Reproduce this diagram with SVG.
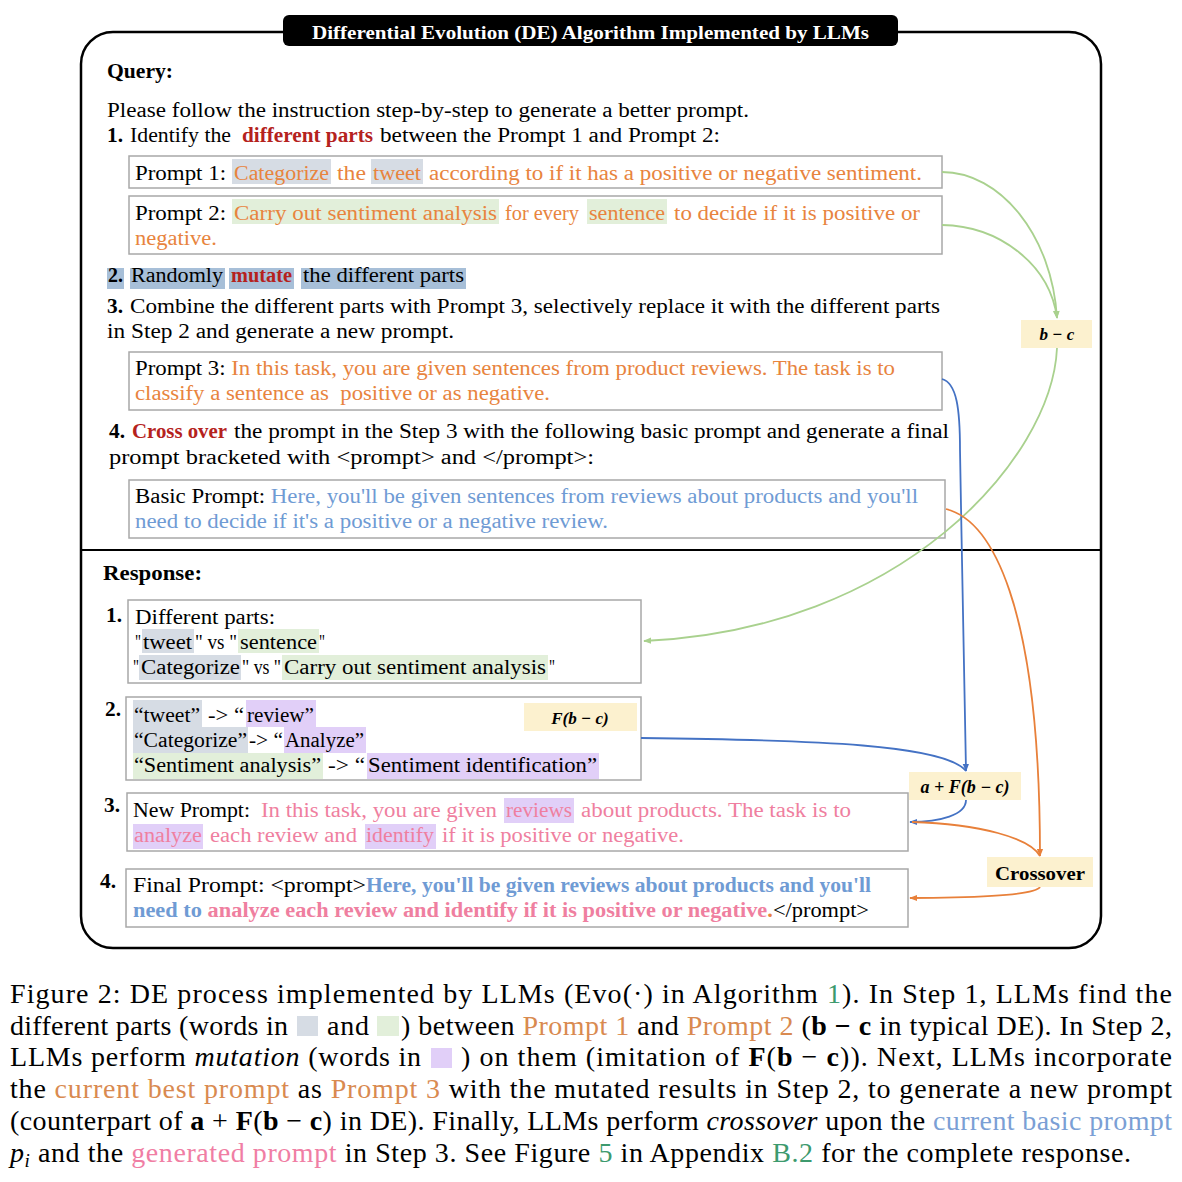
<svg xmlns="http://www.w3.org/2000/svg" width="1182" height="1182" viewBox="0 0 1182 1182">
<style>
text{font-family:"Liberation Serif","Times New Roman",serif;font-size:20.8px;fill:#000}
.b{font-weight:bold}
.i{font-style:italic}
.red{fill:#b5221d}
.or{fill:#e8843e}
.bl{fill:#6f9bd4}
.pk{fill:#ef7fa0}
.box{fill:#fff;stroke:#a8a8a8;stroke-width:1.5}
.hg{fill:#d6dce4}
.hgr{fill:#e2efda}
.hp{fill:#e1cff8}
.hb{fill:#a7bfd8}
.lab{fill:#fcf1cf}
.m{font-weight:bold;font-style:italic;font-size:17px}
.cap{font-size:28px}
.cor{fill:#d98a50}
.cgr{fill:#3d9a6e}
.cbl{fill:#7b9fd5}
.cpk{fill:#f07ea4}
.con{fill:none;stroke-width:1.8}
</style>
<defs>
<marker id="ag" viewBox="0 0 10 10" refX="9" refY="5" markerWidth="8" markerHeight="8" markerUnits="userSpaceOnUse" orient="auto"><path d="M0,1 L10,5 L0,9 z" fill="#a9d18e"/></marker>
<marker id="ab" viewBox="0 0 10 10" refX="9" refY="5" markerWidth="8" markerHeight="8" markerUnits="userSpaceOnUse" orient="auto"><path d="M0,1 L10,5 L0,9 z" fill="#4472c4"/></marker>
<marker id="ao" viewBox="0 0 10 10" refX="9" refY="5" markerWidth="8" markerHeight="8" markerUnits="userSpaceOnUse" orient="auto"><path d="M0,1 L10,5 L0,9 z" fill="#e8803a"/></marker>
</defs>

<g id="frame">
<rect x="81" y="32" width="1020" height="916" rx="32" fill="#fff" stroke="#000" stroke-width="2.5"/>
<line x1="81" y1="550" x2="1101" y2="550" stroke="#000" stroke-width="2"/>
</g>
<g id="title">
<rect x="283" y="15" width="615" height="31" rx="6" fill="#000"/>
<text x="312" y="39" class="b" style="fill:#fff;font-size:19px" textLength="557" lengthAdjust="spacingAndGlyphs">Differential Evolution (DE) Algorithm Implemented by LLMs</text>
</g>

<g id="query">
<text x="107" y="78" class="b" style="font-size:21px" textLength="66" lengthAdjust="spacingAndGlyphs">Query:</text>
<text x="107" y="117" textLength="642" lengthAdjust="spacingAndGlyphs">Please follow the instruction step-by-step to generate a better prompt.</text>
<text x="107" y="142" class="b" textLength="16" lengthAdjust="spacingAndGlyphs">1.</text>
<text x="130" y="142" textLength="101" lengthAdjust="spacingAndGlyphs">Identify the</text>
<text x="242" y="142" class="b red" textLength="131" lengthAdjust="spacingAndGlyphs">different parts</text>
<text x="380" y="142" textLength="340" lengthAdjust="spacingAndGlyphs">between the Prompt 1 and Prompt 2:</text>
</g>

<g id="prompt1">
<rect class="box" x="129" y="156" width="813" height="32"/>
<rect class="hg" x="232" y="159" width="99" height="25"/>
<rect class="hg" x="371" y="159" width="52" height="25"/>
<text x="135" y="180" textLength="91" lengthAdjust="spacingAndGlyphs">Prompt 1:</text>
<text x="234" y="180" class="or" textLength="95" lengthAdjust="spacingAndGlyphs">Categorize</text>
<text x="337" y="180" class="or" textLength="29" lengthAdjust="spacingAndGlyphs">the</text>
<text x="373" y="180" class="or" textLength="48" lengthAdjust="spacingAndGlyphs">tweet</text>
<text x="429" y="180" class="or" textLength="493" lengthAdjust="spacingAndGlyphs">according to if it has a positive or negative sentiment.</text>
</g>

<g id="prompt2">
<rect class="box" x="129" y="196" width="813" height="58"/>
<rect class="hgr" x="232" y="199" width="267" height="25"/>
<rect class="hgr" x="587" y="199" width="80" height="25"/>
<text x="135" y="220" textLength="91" lengthAdjust="spacingAndGlyphs">Prompt 2:</text>
<text x="234" y="220" class="or" textLength="263" lengthAdjust="spacingAndGlyphs">Carry out sentiment analysis</text>
<text x="505" y="220" class="or" textLength="74" lengthAdjust="spacingAndGlyphs">for every</text>
<text x="589" y="220" class="or" textLength="76" lengthAdjust="spacingAndGlyphs">sentence</text>
<text x="674" y="220" class="or" textLength="246" lengthAdjust="spacingAndGlyphs">to decide if it is positive or</text>
<text x="135" y="245" class="or" textLength="82" lengthAdjust="spacingAndGlyphs">negative.</text>
</g>

<g id="step2">
<rect class="hb" x="107" y="268" width="17" height="21"/>
<rect class="hb" x="130" y="268" width="95" height="21"/>
<rect class="hb" x="229" y="268" width="65" height="21"/>
<rect class="hb" x="301" y="268" width="165" height="21"/>
<text x="108" y="282" class="b" textLength="15" lengthAdjust="spacingAndGlyphs">2.</text>
<text x="131" y="282" textLength="92" lengthAdjust="spacingAndGlyphs">Randomly</text>
<text x="231" y="282" class="b red" textLength="61" lengthAdjust="spacingAndGlyphs">mutate</text>
<text x="303" y="282" textLength="161" lengthAdjust="spacingAndGlyphs">the different parts</text>
</g>

<g id="step3">
<text x="107" y="313" class="b" textLength="16" lengthAdjust="spacingAndGlyphs">3.</text>
<text x="130" y="313" textLength="810" lengthAdjust="spacingAndGlyphs">Combine the different parts with Prompt 3, selectively replace it with the different parts</text>
<text x="107" y="338" textLength="347" lengthAdjust="spacingAndGlyphs">in Step 2 and generate a new prompt.</text>
</g>

<g id="prompt3">
<rect class="box" x="129" y="352" width="813" height="58"/>
<text x="135" y="375" textLength="760" lengthAdjust="spacingAndGlyphs">Prompt 3: <tspan class="or">In this task, you are given sentences from product reviews. The task is to</tspan></text>
<text x="135" y="400" class="or" xml:space="preserve" textLength="415" lengthAdjust="spacingAndGlyphs">classify a sentence as  positive or as negative.</text>
</g>

<g id="step4">
<text x="109" y="438" class="b" textLength="16" lengthAdjust="spacingAndGlyphs">4.</text>
<text x="132" y="438" class="b red" textLength="95" lengthAdjust="spacingAndGlyphs">Cross over</text>
<text x="234" y="438" textLength="715" lengthAdjust="spacingAndGlyphs">the prompt in the Step 3 with the following basic prompt and generate a final</text>
<text x="109" y="464" textLength="485" lengthAdjust="spacingAndGlyphs">prompt bracketed with &lt;prompt&gt; and &lt;/prompt&gt;:</text>
</g>

<g id="basic-prompt">
<rect class="box" x="129" y="480" width="816" height="58"/>
<text x="135" y="503" textLength="783" lengthAdjust="spacingAndGlyphs">Basic Prompt: <tspan class="bl">Here, you'll be given sentences from reviews about products and you'll</tspan></text>
<text x="135" y="528" class="bl" textLength="473" lengthAdjust="spacingAndGlyphs">need to decide if it's a positive or a negative review.</text>
</g>

<g id="response-title">
<text x="103" y="580" class="b" style="font-size:21px" textLength="99" lengthAdjust="spacingAndGlyphs">Response:</text>
</g>

<g id="response1">
<text x="106" y="622" class="b" textLength="16" lengthAdjust="spacingAndGlyphs">1.</text>
<rect class="box" x="128" y="600" width="513" height="83"/>
<rect class="hg" x="142" y="629" width="52" height="24"/>
<rect class="hgr" x="238" y="629" width="81" height="24"/>
<rect class="hg" x="139" y="655" width="102" height="25"/>
<rect class="hgr" x="282" y="655" width="266" height="25"/>
<text x="135" y="624" textLength="140" lengthAdjust="spacingAndGlyphs">Different parts:</text>
<text x="135" y="649" textLength="6" lengthAdjust="spacingAndGlyphs">"</text>
<text x="143" y="649" textLength="49" lengthAdjust="spacingAndGlyphs">tweet</text>
<text x="195" y="649" textLength="42" lengthAdjust="spacingAndGlyphs">" vs "</text>
<text x="240" y="649" textLength="77" lengthAdjust="spacingAndGlyphs">sentence</text>
<text x="319" y="649" textLength="6" lengthAdjust="spacingAndGlyphs">"</text>
<text x="133" y="674" textLength="6" lengthAdjust="spacingAndGlyphs">"</text>
<text x="141" y="674" textLength="99" lengthAdjust="spacingAndGlyphs">Categorize</text>
<text x="242" y="674" textLength="39" lengthAdjust="spacingAndGlyphs">" vs "</text>
<text x="284" y="674" textLength="262" lengthAdjust="spacingAndGlyphs">Carry out sentiment analysis</text>
<text x="549" y="674" textLength="6" lengthAdjust="spacingAndGlyphs">"</text>
</g>

<g id="response2">
<text x="105" y="716" class="b" textLength="16" lengthAdjust="spacingAndGlyphs">2.</text>
<rect class="box" x="126" y="697" width="515" height="83"/>
<rect class="hg" x="133" y="700" width="69" height="27"/>
<rect class="hp" x="246" y="700" width="70" height="27"/>
<rect class="hg" x="133" y="727" width="115" height="26"/>
<rect class="hp" x="284" y="727" width="82" height="26"/>
<rect class="hgr" x="133" y="753" width="190" height="26"/>
<rect class="hp" x="367" y="753" width="232" height="26"/>
<text x="134" y="722" textLength="66" lengthAdjust="spacingAndGlyphs">“tweet”</text>
<text x="208" y="722" textLength="36" lengthAdjust="spacingAndGlyphs">-&gt; “</text>
<text x="247" y="722" textLength="67" lengthAdjust="spacingAndGlyphs">review”</text>
<text x="134" y="747" textLength="113" lengthAdjust="spacingAndGlyphs">“Categorize”</text>
<text x="249" y="747" textLength="34" lengthAdjust="spacingAndGlyphs">-&gt; “</text>
<text x="285" y="747" textLength="79" lengthAdjust="spacingAndGlyphs">Analyze”</text>
<text x="134" y="772" textLength="187" lengthAdjust="spacingAndGlyphs">“Sentiment analysis”</text>
<text x="328" y="772" textLength="37" lengthAdjust="spacingAndGlyphs">-&gt; “</text>
<text x="368" y="772" textLength="229" lengthAdjust="spacingAndGlyphs">Sentiment identification”</text>
</g>

<g id="label-fbc">
<rect class="lab" x="524" y="703" width="113" height="28"/>
<text x="580" y="724" class="m" text-anchor="middle">F(b − c)</text>
</g>

<g id="response3">
<text x="104" y="812" class="b" textLength="16" lengthAdjust="spacingAndGlyphs">3.</text>
<rect class="box" x="127" y="793" width="781" height="58"/>
<rect class="hp" x="504" y="798" width="70" height="25"/>
<rect class="hp" x="133" y="824" width="70" height="25"/>
<rect class="hp" x="365" y="824" width="71" height="25"/>
<text x="133" y="817" textLength="117" lengthAdjust="spacingAndGlyphs">New Prompt:</text>
<text x="261" y="817" class="pk" textLength="236" lengthAdjust="spacingAndGlyphs">In this task, you are given</text>
<text x="506" y="817" class="pk" textLength="66" lengthAdjust="spacingAndGlyphs">reviews</text>
<text x="581" y="817" class="pk" textLength="270" lengthAdjust="spacingAndGlyphs">about products. The task is to</text>
<text x="134" y="842" class="pk" textLength="68" lengthAdjust="spacingAndGlyphs">analyze</text>
<text x="210" y="842" class="pk" textLength="147" lengthAdjust="spacingAndGlyphs">each review and</text>
<text x="366" y="842" class="pk" textLength="68" lengthAdjust="spacingAndGlyphs">identify</text>
<text x="442" y="842" class="pk" textLength="242" lengthAdjust="spacingAndGlyphs">if it is positive or negative.</text>
</g>

<g id="response4">
<text x="100" y="888" class="b" textLength="16" lengthAdjust="spacingAndGlyphs">4.</text>
<rect class="box" x="126" y="869" width="782" height="58"/>
<text x="133" y="892" textLength="233" lengthAdjust="spacingAndGlyphs">Final Prompt: &lt;prompt&gt;</text>
<text x="366" y="892" class="b bl" textLength="505" lengthAdjust="spacingAndGlyphs">Here, you'll be given reviews about products and you'll</text>
<text x="133" y="917" textLength="736" lengthAdjust="spacingAndGlyphs"><tspan class="b bl">need to </tspan><tspan class="b pk">analyze each review and identify if it is positive or negative</tspan><tspan class="b or">.</tspan>&lt;/prompt&gt;</text>
</g>

<g id="connectors">
<path class="con" stroke="#a9d18e" d="M942,172 C1000,172 1052,235 1057,318" marker-end="url(#ag)"/>
<path class="con" stroke="#a9d18e" d="M942,225 C1000,226 1050,265 1057,318" marker-end="url(#ag)"/>
<path class="con" stroke="#a9d18e" d="M1057,348 C1052,460 900,630 644,641" marker-end="url(#ag)"/>
<path class="con" stroke="#4472c4" d="M942,379 C957,383 960,410 960,450 C962,560 964,680 966,771" marker-end="url(#ab)"/>
<path class="con" stroke="#4472c4" d="M641,738 C820,740 945,745 966,771"/>
<path class="con" stroke="#4472c4" d="M966,800 C966,815 940,822 910,822" marker-end="url(#ab)"/>
<path class="con" stroke="#e8803a" d="M946,509 C990,520 1040,600 1040,856" marker-end="url(#ao)"/>
<path class="con" stroke="#e8803a" d="M912,822 C980,824 1030,838 1040,856"/>
<path class="con" stroke="#e8803a" d="M1040,887 C1035,896 960,898 910,898" marker-end="url(#ao)"/>
</g>

<g id="label-bc">
<rect class="lab" x="1021" y="320" width="71" height="28"/>
<text x="1057" y="340" class="m" text-anchor="middle">b − c</text>
</g>
<g id="label-afbc">
<rect class="lab" x="909" y="772" width="112" height="28"/>
<text x="965" y="793" class="m" style="font-size:18px" text-anchor="middle">a + F(b − c)</text>
</g>
<g id="label-crossover">
<rect class="lab" x="987" y="857" width="106" height="30"/>
<text x="995" y="880" class="b" style="font-size:19px" textLength="90" lengthAdjust="spacingAndGlyphs">Crossover</text>
</g>

<g id="caption">
<text x="10" y="1003" class="cap" textLength="1162">Figure 2: DE process implemented by LLMs (Evo(·) in Algorithm <tspan class="cgr">1</tspan>). In Step 1, LLMs find the</text>
<text x="10" y="1035" class="cap" textLength="278">different parts (words in</text>
<rect class="hg" x="297" y="1016" width="21" height="20"/>
<text x="327" y="1035" class="cap" textLength="42">and</text>
<rect class="hgr" x="377" y="1016" width="22" height="20"/>
<text x="401" y="1035" class="cap" textLength="771">) between <tspan class="cor">Prompt 1</tspan> and <tspan class="cor">Prompt 2</tspan> (<tspan class="b">b − c</tspan> in typical DE). In Step 2,</text>
<text x="10" y="1066" class="cap" textLength="411">LLMs perform <tspan class="i">mutation</tspan> (words in</text>
<rect class="hp" x="431" y="1048" width="21" height="20"/>
<text x="461" y="1066" class="cap" textLength="711">) on them (imitation of <tspan class="b">F</tspan>(<tspan class="b">b</tspan> − <tspan class="b">c</tspan>)). Next, LLMs incorporate</text>
<text x="10" y="1098" class="cap" textLength="1162">the <tspan class="cor">current best prompt</tspan> as <tspan class="cor">Prompt 3</tspan> with the mutated results in Step 2, to generate a new prompt</text>
<text x="10" y="1130" class="cap" textLength="1162">(counterpart of <tspan class="b">a</tspan> + <tspan class="b">F</tspan>(<tspan class="b">b</tspan> − <tspan class="b">c</tspan>) in DE). Finally, LLMs perform <tspan class="i">crossover</tspan> upon the <tspan class="cbl">current basic prompt</tspan></text>
<text x="10" y="1162" class="cap" textLength="1121"><tspan class="i">p</tspan><tspan class="i" dy="5" style="font-size:19px">i</tspan><tspan dy="-5"> and the </tspan><tspan class="cpk">generated prompt</tspan> in Step 3. See Figure <tspan class="cgr">5</tspan> in Appendix <tspan class="cgr">B.2</tspan> for the complete response.</text>
</g>
</svg>
